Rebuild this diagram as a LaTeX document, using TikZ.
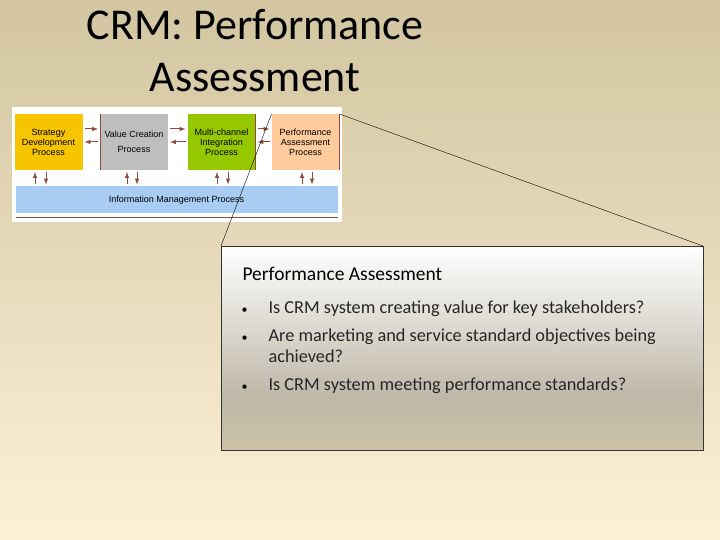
\documentclass[tikz,border=0pt]{standalone}
\usepackage{fontspec}
\setmainfont{Carlito}
\newfontfamily\smallsans{Liberation Sans}
\usetikzlibrary{positioning,arrows,calc}

\definecolor{bgtop}{HTML}{D2C5A0}
\definecolor{bgbot}{HTML}{FDF0D6}
\definecolor{stratyel}{HTML}{F7C400}
\definecolor{valgray}{HTML}{BEBEBE}
\definecolor{multgreen}{HTML}{96C800}
\definecolor{perfpeach}{HTML}{FDCB9C}
\definecolor{infoblue}{HTML}{A8CCF2}
\definecolor{arrbrown}{HTML}{8E4C3C}
\pgfdeclareverticalshading{zoomfade}{100bp}{color(0bp)=(white!80!bgtop); color(25bp)=(white!15!bgtop!85!gray); color(38bp)=(bgtop!55!gray!80!white); color(75bp)=(white); color(100bp)=(white)}

\begin{document}
\begin{tikzpicture}[x=1pt,y=-1pt,
  proc/.style={minimum width=68pt,minimum height=56pt,inner sep=0pt,outer sep=0pt,align=center,font=\smallsans\fontsize{9}{10}\selectfont},
  flow/.style={->,>=latex,arrbrown,line width=1pt,shorten <=2pt,shorten >=2pt},
  edge/.style={arrbrown,line width=0.8pt},
  bullet/.style={anchor=base,font=\fontsize{12}{16}\selectfont},
  item/.style={anchor=base west,font=\fontsize{18.3}{20}\selectfont,text=black!85}]
  % background
  \fill[top color=bgtop,bottom color=bgbot] (0,0) rectangle (720,540);
  \useasboundingbox (0,0) rectangle (720,540);

  % title
  \node[anchor=base,font=\fontsize{44}{48}\selectfont] (title1) at (255,40) {CRM: Performance};
  \node[anchor=base,font=\fontsize{44}{48}\selectfont] (title2) at (255,92) {Assessment};

  % small process picture
  \fill[white] (12,107) rectangle (342,222);
  \node[proc,fill=stratyel] (sdp) at (48.5,142) {Strategy\\Development\\Process};
  \node[proc,fill=valgray,font=\smallsans\fontsize{9}{15}\selectfont] (vcp) at (134,142) {Value Creation\\Process};
  \node[proc,fill=multgreen] (mip) at (221.5,142) {Multi-channel\\Integration\\Process};
  \node[proc,fill=perfpeach] (pap) at (305.5,142) {Performance\\Assessment\\Process};
  \node[minimum width=322pt,minimum height=27pt,inner sep=0pt,outer sep=0pt,fill=infoblue,font=\smallsans\fontsize{9}{10}\selectfont] (imp) at (176.5,200) {Information Management Process};

  \draw[edge] (vcp.north west) -- (vcp.south west);
  \draw[edge] (mip.north east) -- (mip.south east);
  \draw[edge] (pap.north east) -- (pap.south east);
  \draw[edge] ([yshift=-4pt]imp.south west) -- ([yshift=-4pt]imp.south east);

  \draw[flow] ([yshift=13pt]sdp.east) -- ([yshift=13pt]vcp.west);
  \draw[flow] (vcp.west) -- (sdp.east);
  \draw[flow] ([yshift=13pt]vcp.east) -- ([yshift=13pt]mip.west);
  \draw[flow] (mip.west) -- (vcp.east);
  \draw[flow] ([yshift=13pt]mip.east) -- ([yshift=13pt]pap.west);
  \draw[flow] (pap.west) -- (mip.east);

  \draw[flow] ([xshift=-13.5pt]sdp.south |- imp.north) -- ([xshift=-13.5pt]sdp.south);
  \draw[flow] ([xshift=-2.5pt]sdp.south) -- ([xshift=-2.5pt]sdp.south |- imp.north);
  \draw[flow] ([xshift=-7pt]vcp.south |- imp.north) -- ([xshift=-7pt]vcp.south);
  \draw[flow] ([xshift=3pt]vcp.south) -- ([xshift=3pt]vcp.south |- imp.north);
  \draw[flow] ([xshift=-4.5pt]mip.south |- imp.north) -- ([xshift=-4.5pt]mip.south);
  \draw[flow] ([xshift=6.5pt]mip.south) -- ([xshift=6.5pt]mip.south |- imp.north);
  \draw[flow] ([xshift=-3.5pt]pap.south |- imp.north) -- ([xshift=-3.5pt]pap.south);
  \draw[flow] ([xshift=6.5pt]pap.south) -- ([xshift=6.5pt]pap.south |- imp.north);

  % zoomed box
  \node[draw=black!80,line width=0.8pt,shading=zoomfade,minimum width=482pt,minimum height=204pt,outer sep=0pt] (zoom) at (462,348) {};
  \draw[black] (pap.north west) -- (zoom.north west);
  \draw[black] (pap.north east) -- (zoom.north east);

  \node[anchor=base west,font=\fontsize{19.5}{22}\selectfont] (head) at (239,280) {Performance Assessment};
  \node[bullet] (b1) at (244.5,313) {\textbullet};
  \node[item] (q1) at (265,313) {Is CRM system creating value for key stakeholders?};
  \node[bullet] (b2) at (244.5,341) {\textbullet};
  \node[item] (q2) at (265,341) {Are marketing and service standard objectives being};
  \node[item] (q2b) at (265,362) {achieved?};
  \node[bullet] (b3) at (244.5,390) {\textbullet};
  \node[item] (q3) at (265,390) {Is CRM system meeting performance standards?};
\end{tikzpicture}
\end{document}
